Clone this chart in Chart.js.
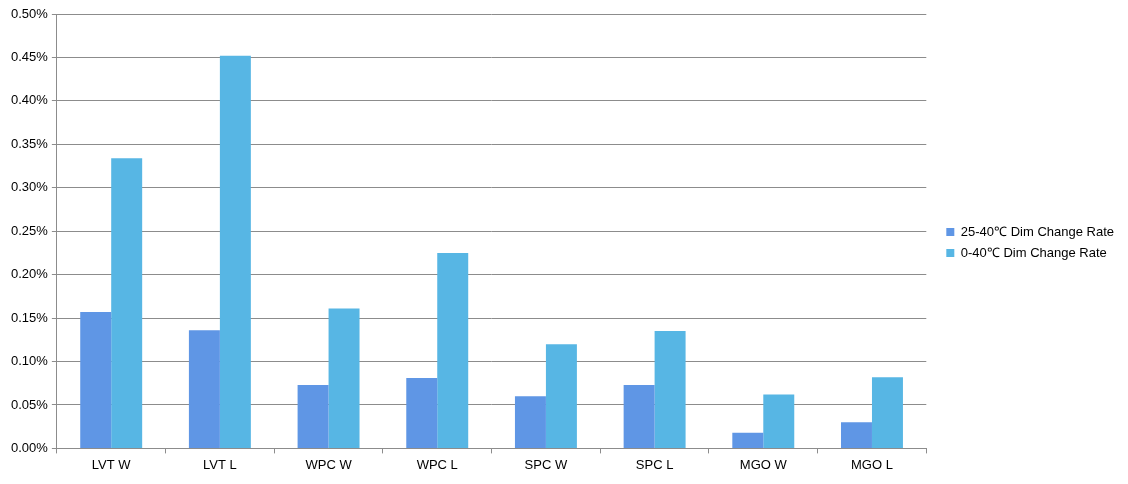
<!DOCTYPE html>
<html><head><meta charset="utf-8">
<script src="https://cdn.jsdelivr.net/npm/chart.js@4"></script>
<style>html,body{margin:0;padding:0;background:#fff}#wrap{width:1128px;height:484px}</style>
</head><body><div id="wrap"><canvas id="c"></canvas></div>
<script>
const categories = ["LVT W","LVT L","WPC W","WPC L","SPC W","SPC L","MGO W","MGO L"];
const series1Name = "25-40℃ Dim Change Rate";
const series2Name = "0-40℃ Dim Change Rate";
const series1 = [0.157,0.136,0.073,0.081,0.060,0.073,0.018,0.030];
const series2 = [0.334,0.452,0.161,0.225,0.120,0.135,0.062,0.082];
const yMin = 0, yMax = 0.5, yStep = 0.05;

Chart.defaults.font.family = '"Liberation Sans", Arial, sans-serif';
Chart.defaults.font.size = 13;
Chart.defaults.color = '#000';

const legendGap = {
  id: 'legendGap',
  beforeInit(chart) {
    const orig = chart.legend.fit;
    chart.legend.fit = function () { orig.call(this); this.width += 22; };
  },
  afterLayout(chart) {
    chart.legend.left += 12;
    chart.legend.top -= 3;
    chart.legend.bottom -= 3;
  }
};

new Chart(document.getElementById('c'), {
  type: 'bar',
  data: {
    labels: categories,
    datasets: [
      {label: series1Name, data: series1, backgroundColor: '#5F96E5'},
      {label: series2Name, data: series2, backgroundColor: '#57B6E4'}
    ]
  },
  plugins: [legendGap],
  options: {
    responsive: true, maintainAspectRatio: false, animation: false,
    devicePixelRatio: 1,
    layout: {padding: {top: 14, left: 7, right: -6, bottom: 7}},
    datasets: {bar: {barPercentage: 1, categoryPercentage: 0.57}},
    plugins: {
      legend: {position: 'right', align: 'center',
        labels: {boxWidth: 8, boxHeight: 8, padding: 8, font: {size: 13}}},
      tooltip: {enabled: false}
    },
    scales: {
      x: {
        grid: {display: true, drawOnChartArea: false, drawTicks: true, tickLength: 5, color: '#8c8c8c', offset: true},
        border: {display: true, color: '#8c8c8c'},
        ticks: {padding: 4}
      },
      y: {
        min: yMin, max: yMax,
        grid: {color: '#8c8c8c', tickLength: 5, drawTicks: true},
        border: {display: true, color: '#8c8c8c'},
        ticks: {stepSize: yStep, padding: 4, callback: v => v.toFixed(2) + '%'}
      }
    }
  }
});
</script></body></html>
